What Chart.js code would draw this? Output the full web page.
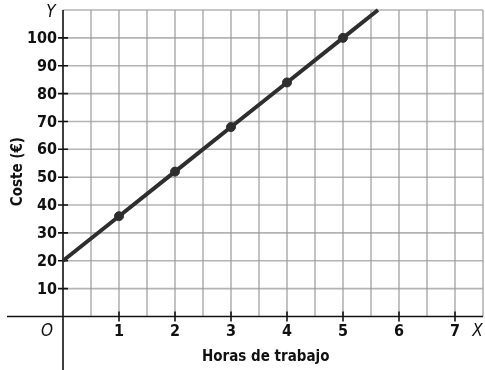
<!DOCTYPE html>
<html>
<head>
<meta charset="utf-8">
<script src="https://cdn.jsdelivr.net/npm/chart.js@4.4.0/dist/chart.umd.min.js"></script>
<style>
  html, body { margin: 0; padding: 0; background: #fff; overflow: hidden; }
  canvas { display: block; }
</style>
</head>
<body>
<canvas id="grafica" width="485" height="370"></canvas>
<script>
// puntos marcados (horas, coste)
var horas = [1, 2, 3, 4, 5];
var coste = [36, 52, 68, 84, 100];
// recta: desde el corte con el eje Y hasta el borde superior de la cuadrícula
var rectaX = [0, 1, 2, 3, 4, 5, 5.625];
var rectaY = [20, 36, 52, 68, 84, 100, 110];
var ticksX = [1, 2, 3, 4, 5, 6, 7];
var ticksY = [10, 20, 30, 40, 50, 60, 70, 80, 90, 100];

var fuente = '"DejaVu Sans Condensed", "DejaVu Sans", sans-serif';
var tinta = '#111';
var trazo = '#2e2e2e';

// cuadrícula, ejes cruzados en el origen, marcas y rótulos
var ejes = {
  id: 'ejes',
  beforeDatasetsDraw: function (chart) {
    var ctx = chart.ctx, sx = chart.scales.x, sy = chart.scales.y, area = chart.chartArea;
    var x0 = sx.getPixelForValue(0), x1 = sx.getPixelForValue(7.5);
    var y0 = sy.getPixelForValue(0), y1 = sy.getPixelForValue(110);
    ctx.save();

    // horizontales cada 10, verticales cada media hora
    ctx.strokeStyle = '#b4b4b4';
    ctx.lineWidth = 1.6;
    ctx.beginPath();
    for (var j = 1; j <= 11; j++) {
      var py = sy.getPixelForValue(j * 10);
      ctx.moveTo(x0, py);
      ctx.lineTo(x1, py);
    }
    ctx.stroke();
    ctx.strokeStyle = '#9a9a9a';
    ctx.lineWidth = 1.2;
    ctx.beginPath();
    for (var i = 1; i <= 15; i++) {
      var px = sx.getPixelForValue(i * 0.5);
      ctx.moveTo(px, y0);
      ctx.lineTo(px, y1);
    }
    ctx.stroke();

    // ejes
    ctx.strokeStyle = tinta;
    ctx.lineWidth = 1.6;
    ctx.beginPath();
    ctx.moveTo(area.left, y0);
    ctx.lineTo(area.right, y0);
    ctx.moveTo(x0, area.top);
    ctx.lineTo(x0, area.bottom);
    ticksX.forEach(function (v) {
      var px = sx.getPixelForValue(v);
      ctx.moveTo(px, y0 - 5);
      ctx.lineTo(px, y0 + 5);
    });
    ticksY.forEach(function (v) {
      var py = sy.getPixelForValue(v);
      ctx.moveTo(x0 - 5, py);
      ctx.lineTo(x0 + 5, py);
    });
    ctx.stroke();

    ctx.fillStyle = tinta;
    ctx.textBaseline = 'middle';
    ctx.font = 'bold 16px ' + fuente;
    ctx.textAlign = 'right';
    ticksY.forEach(function (v) {
      ctx.fillText(String(v), x0 - 6, sy.getPixelForValue(v) + 1);
    });
    ctx.textAlign = 'center';
    ticksX.forEach(function (v) {
      ctx.fillText(String(v), sx.getPixelForValue(v), y0 + 15);
    });

    ctx.font = 'italic 17px ' + fuente;
    ctx.fillText('O', x0 - 16, y0 + 15);
    ctx.fillText('X', sx.getPixelForValue(7.4), y0 + 15);
    ctx.fillText('Y', x0 - 12, sy.getPixelForValue(109.2));

    ctx.font = 'bold 15px ' + fuente;
    ctx.fillText('Horas de trabajo', sx.getPixelForValue(3.62), y0 + 41);
    ctx.translate(18, sy.getPixelForValue(52));
    ctx.rotate(-Math.PI / 2);
    ctx.fillText('Coste (€)', 0, 0);
    ctx.restore();
  }
};

new Chart(document.getElementById('grafica'), {
  type: 'scatter',
  data: {
    datasets: [{
      type: 'line',
      data: rectaX.map(function (x, i) { return {x: x, y: rectaY[i]}; }),
      borderColor: trazo,
      borderWidth: 4,
      pointRadius: 0,
      clip: false
    }, {
      data: horas.map(function (h, i) { return {x: h, y: coste[i]}; }),
      backgroundColor: trazo,
      borderColor: trazo,
      pointRadius: 4.5,
      clip: false
    }]
  },
  plugins: [ejes],
  options: {
    responsive: false,
    animation: false,
    layout: { autoPadding: false, padding: { left: 7, right: 2, top: 10, bottom: 0 } },
    plugins: { legend: { display: false }, tooltip: { enabled: false } },
    scales: {
      x: { type: 'linear', min: -1, max: 7.5, display: false },
      y: { type: 'linear', min: -19.2, max: 110, display: false }
    }
  }
});
</script>
</body>
</html>
